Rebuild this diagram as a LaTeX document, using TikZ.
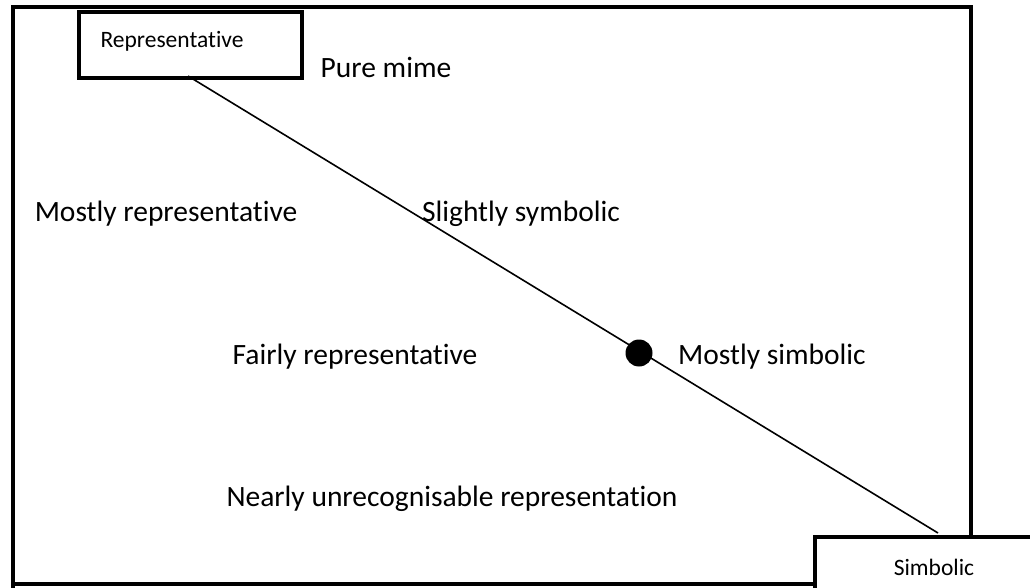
\documentclass[tikz,border=0pt]{standalone}
\usepackage{fontspec}
\setmainfont{Carlito}[Ligatures=NoCommon]
\begin{document}
\begin{tikzpicture}[x=1pt,y=-1pt,
  frame/.style={draw=black,line width=4pt},
  lbl/.style={font=\fontsize{29.5}{32}\selectfont,inner sep=0pt,anchor=base},
  boxlbl/.style={font=\fontsize{23.5}{26}\selectfont,inner sep=0pt,anchor=base},
  link/.style={draw=black,line width=1.6pt}]
\useasboundingbox (0,0) rectangle (1030,588);
% outer frame (extends past page bottom)
\draw[frame] (13,620) -- (13,7) -- (971,7) -- (971,537);
\draw[frame] (13,584) -- (815,584);
% representative box
\node[frame,fill=white,minimum width=223pt,minimum height=66pt,inner sep=0pt,anchor=north west] (rep) at (77,10) {};
\node[boxlbl] (replbl) at (172,48) {Representative};
% simbolic box
\node[frame,fill=white,minimum width=260pt,minimum height=100pt,inner sep=0pt,anchor=north west] (sim) at (813,535) {};
\node[boxlbl] (simlbl) at (934,575) {Simbolic};
% line
\coordinate (a) at (188,76);
\coordinate (b) at (938,533);
\draw[link] (a) -- (b);
\fill[black] (639,353) circle (13.5pt) node (dot) {};
% labels
\node[lbl] (pure) at (386,78) {Pure mime};
\node[lbl] (mrep) at (166,221) {Mostly representative};
\node[lbl] (ssym) at (521,222) {Slightly symbolic};
\node[lbl] (frep) at (355,364) {Fairly representative};
\node[lbl] (msim) at (772,364) {Mostly simbolic};
\node[lbl] (nrep) at (452,506) {Nearly unrecognisable representation};
\end{tikzpicture}
\end{document}
